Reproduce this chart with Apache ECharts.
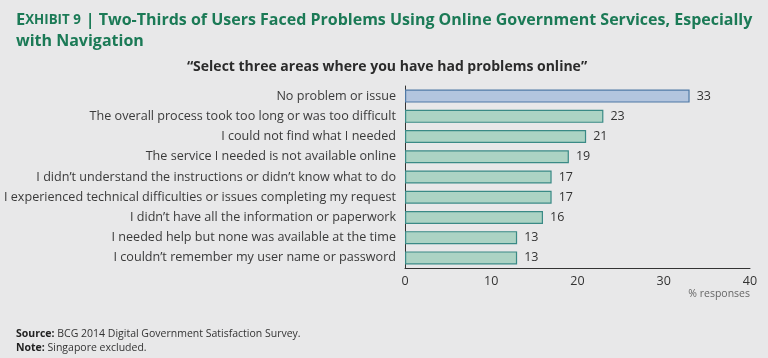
<!DOCTYPE html>
<html><head><meta charset="utf-8">
<script src="https://cdn.jsdelivr.net/npm/echarts@6/dist/echarts.min.js"></script>
<style>html,body{margin:0;padding:0;background:#e8e8e9;}#c{width:768px;height:358px;}</style>
</head><body><div id="c"></div>
<script>
const categories = [
  "No problem or issue",
  "The overall process took too long or was too difficult",
  "I could not find what I needed",
  "The service I needed is not available online",
  "I didn\u2019t understand the instructions or didn\u2019t know what to do",
  "I experienced technical difficulties or issues completing my request",
  "I didn\u2019t have all the information or paperwork",
  "I needed help but none was available at the time",
  "I couldn\u2019t remember my user name or password"
];
const values = [33, 23, 21, 19, 17, 17, 16, 13, 13];
const xTicks = [0, 10, 20, 30, 40];

const font = "'Open Sans', 'Noto Sans', sans-serif";
const chart = echarts.init(document.getElementById('c'));
chart.setOption({
  backgroundColor: '#e8e8e9',
  animation: false,
  title: [
    {
      text: '{a|E}{b|XHIBIT 9} {c|| Two-Thirds of Users Faced Problems Using Online Government Services, Especially}\n{c|with Navigation}',
      left: 11, top: 5,
      textStyle: {
        rich: {
          a: {fontSize: 16.5, fontWeight: 'bold', color: '#1b7a56', fontFamily: font, lineHeight: 21},
          b: {fontSize: 13.3, fontWeight: 'bold', color: '#1b7a56', fontFamily: font, lineHeight: 21},
          c: {fontSize: 16, fontWeight: 'bold', color: '#1b7a56', fontFamily: font, lineHeight: 21}
        }
      }
    },
    {
      text: '\u201cSelect three areas where you have had problems online\u201d',
      left: 382, top: 55, textAlign: 'center',
      textStyle: {fontSize: 14, fontWeight: 'bold', color: '#2b2b2b', fontFamily: font}
    },
    {
      text: '{s|Source:} {n|BCG 2014 Digital Government Satisfaction Survey.}\n{s|Note:} {n|Singapore excluded.}',
      left: 11, top: 322,
      textStyle: {fontSize: 10.5, fontWeight: 'normal', color: '#333', fontFamily: font, lineHeight: 14,
        rich: {
          s: {fontSize: 10.5, fontWeight: 'bold', color: '#222', fontFamily: font, lineHeight: 14},
          n: {fontSize: 10.5, fontWeight: 'normal', color: '#333', fontFamily: font, lineHeight: 14}
        }}
    }
  ],
  grid: {left: 405, right: 18, top: 86, height: 182},
  xAxis: {
    type: 'value', min: xTicks[0], max: xTicks[xTicks.length - 1], interval: 10,
    name: '% responses', nameLocation: 'end',
    nameGap: 0,
    nameTextStyle: {fontSize: 10.5, color: '#666', fontFamily: font, align: 'right', verticalAlign: 'top', padding: [21, 0, 0, 0]},
    axisLine: {show: true, lineStyle: {color: '#333', width: 1}},
    axisTick: {show: false},
    splitLine: {show: false},
    axisLabel: {fontSize: 12.5, color: '#333', fontFamily: font, margin: 7}
  },
  yAxis: {
    type: 'category', data: categories, inverse: true,
    axisLine: {show: true, lineStyle: {color: '#333', width: 1}},
    axisTick: {show: false},
    axisLabel: {fontSize: 12.6, color: '#3a3a3a', fontFamily: font, margin: 9}
  },
  series: [{
    type: 'bar',
    data: values.map((v, i) => ({
      value: v,
      itemStyle: i === 0
        ? {color: '#b3c5de', borderColor: '#4f79a6', borderWidth: 1.2}
        : {color: '#acd3c4', borderColor: '#3a8a86', borderWidth: 1.2}
    })),
    barWidth: 13,
    label: {show: true, position: 'right', distance: 7, fontSize: 12.5, color: '#333', fontFamily: font}
  }]
});
</script></body></html>
